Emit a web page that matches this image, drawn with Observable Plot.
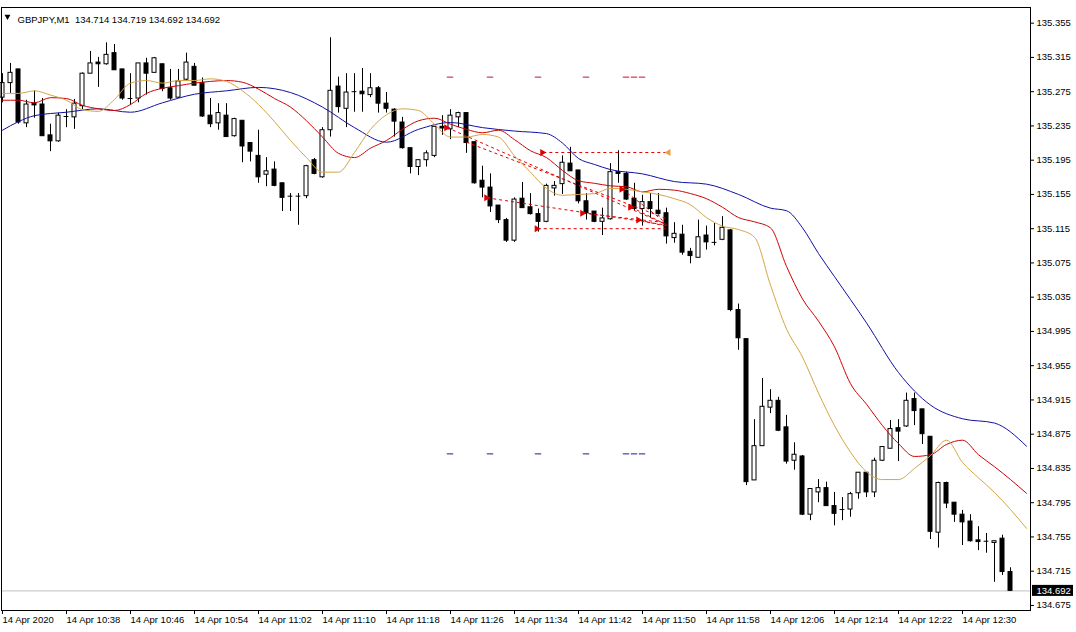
<!DOCTYPE html>
<html><head><meta charset="utf-8">
<script src="https://cdn.jsdelivr.net/npm/d3@7"></script>
<script src="https://cdn.jsdelivr.net/npm/@observablehq/plot@0.6"></script>
<style>
html,body{margin:0;padding:0;background:#fff;}
#chart svg{display:block;}
</style></head><body><div id="chart"></div>
<script>
// ---------- data ----------
const symbolName = "GBPJPY,M1";
const lastOHLC = [134.714, 134.719, 134.692, 134.692];

const open = [135.268,135.285,135.301,135.238,135.261,135.260,135.224,135.217,135.246,135.245,
135.258,135.296,135.309,135.307,135.320,135.301,135.267,135.267,135.308,135.297,
135.307,135.279,135.268,135.289,135.304,135.285,135.247,135.238,135.247,135.223,
135.241,135.215,135.200,135.178,135.184,135.168,135.153,135.153,135.153,135.195,
135.175,135.230,135.281,135.255,135.275,135.275,135.271,135.279,135.261,135.254,
135.239,135.209,135.187,135.195,135.200,135.234,135.231,135.245,135.250,135.216,
135.171,135.163,135.142,135.125,135.101,135.150,135.140,135.132,135.123,135.162,
135.167,135.191,135.183,135.147,135.135,135.123,135.126,135.181,135.179,135.150,
135.138,135.146,135.136,135.133,135.104,135.108,135.088,135.081,135.107,135.099,
135.102,135.113,135.020,134.986,134.821,134.861,134.906,134.914,134.883,134.844,
134.849,134.781,134.807,134.812,134.791,134.787,134.787,134.806,134.830,134.807,
134.844,134.858,134.882,134.884,134.916,134.904,134.872,134.760,134.818,134.795,
134.781,134.773,134.751,134.750,134.748,134.753,134.714];
const high = [135.296,135.308,135.301,135.265,135.276,135.267,135.237,135.250,135.254,135.266,
135.297,135.322,135.315,135.332,135.330,135.301,135.296,135.308,135.314,135.315,
135.307,135.301,135.301,135.320,135.308,135.291,135.267,135.261,135.261,135.244,
135.241,135.215,135.230,135.198,135.193,135.168,135.156,135.156,135.189,135.197,
135.233,135.338,135.292,135.296,135.296,135.302,135.296,135.281,135.274,135.255,
135.245,135.209,135.195,135.206,135.234,135.247,135.254,135.251,135.250,135.216,
135.188,135.179,135.142,135.127,135.151,135.169,135.156,135.138,135.167,135.170,
135.200,135.210,135.183,135.156,135.135,135.139,135.191,135.206,135.181,135.168,
135.154,135.156,135.156,135.139,135.122,135.119,135.092,135.125,135.118,135.121,
135.129,135.114,135.027,134.986,134.892,134.940,134.927,134.918,134.897,134.865,
134.850,134.811,134.822,134.819,134.807,134.801,134.807,134.830,134.830,134.847,
134.860,134.891,134.892,134.923,134.923,134.904,134.872,134.819,134.819,134.795,
134.786,134.781,134.767,134.759,134.750,134.757,134.719];
const low = [135.262,135.273,135.237,135.233,135.244,135.223,135.205,135.216,135.233,135.231,
135.254,135.296,135.280,135.306,135.300,135.265,135.259,135.262,135.271,135.297,
135.275,135.265,135.267,135.288,135.282,135.245,135.233,135.230,135.222,135.222,
135.192,135.193,135.168,135.164,135.164,135.135,135.135,135.119,135.150,135.178,
135.174,135.222,135.250,135.233,135.251,135.251,135.268,135.250,135.250,135.222,
135.208,135.179,135.177,135.187,135.198,135.224,135.219,135.233,135.203,135.167,
135.151,135.134,135.121,135.099,135.099,135.139,135.131,135.111,135.122,135.153,
135.155,135.182,135.144,135.125,135.122,135.107,135.125,135.168,135.148,135.136,
135.118,135.127,135.131,135.097,135.098,135.084,135.074,135.081,135.090,135.095,
135.101,135.018,134.973,134.815,134.821,134.861,134.899,134.878,134.840,134.833,
134.780,134.774,134.795,134.791,134.768,134.774,134.778,134.799,134.801,134.801,
134.843,134.858,134.843,134.883,134.885,134.863,134.752,134.742,134.788,134.772,
134.745,134.749,134.739,134.736,134.702,134.710,134.692];
const close = [135.285,135.297,135.239,135.260,135.259,135.223,135.217,135.247,135.246,135.261,
135.296,135.308,135.307,135.318,135.300,135.267,135.267,135.308,135.296,135.314,
135.278,135.267,135.287,135.309,135.282,135.246,135.237,135.250,135.222,135.243,
135.211,135.205,135.175,135.182,135.165,135.151,135.153,135.153,135.188,135.179,
135.230,135.276,135.257,135.274,135.275,135.272,135.279,135.261,135.255,135.240,
135.209,135.187,135.195,135.203,135.234,135.232,135.247,135.250,135.215,135.168,
135.163,135.141,135.125,135.101,135.149,135.139,135.132,135.123,135.165,135.165,
135.192,135.182,135.147,135.133,135.123,135.127,135.181,135.179,135.149,135.138,
135.146,135.138,135.132,135.106,135.109,135.087,135.083,135.105,135.099,135.099,
135.116,135.020,134.987,134.819,134.861,134.907,134.914,134.879,134.843,134.851,
134.781,134.811,134.812,134.791,134.782,134.787,134.805,134.830,134.807,134.844,
134.860,134.881,134.878,134.914,134.902,134.875,134.761,134.818,134.794,134.781,
134.772,134.750,134.749,134.750,134.750,134.714,134.692];

// moving averages
const blueBars = [0,2,4,8,12,16,20,24,28,32,36,40,44,48,52,56,60,64,68,70,72,74,76,80,84,88,92,96,98,100,102,104,108,112,116,120,124,128];
const blueVals = [135.230,135.240,135.247,135.251,135.255,135.251,135.262,135.272,135.276,135.280,135.274,135.257,135.233,135.216,135.231,135.239,135.233,135.229,135.226,135.215,135.197,135.190,135.184,135.179,135.170,135.167,135.155,135.139,135.136,135.116,135.086,135.059,135.005,134.947,134.909,134.893,134.888,134.861];
const maBars = [0,2,4,6,8,10,12,14,16,18,20,22,24,26,28,30,32,34,36,38,40,42,44,46,48,50,52,54,56,58,60,62,64,66,68,70,72,74,76,78,80,82,84,86,88,90,92,94,96,98,100,102,104,106,108,110,112,114,116,118,120,122,124,126,128];
const redVals = [135.265,135.265,135.262,135.268,135.267,135.259,135.255,135.253,135.260,135.273,135.279,135.282,135.285,135.287,135.288,135.286,135.278,135.267,135.257,135.241,135.222,135.203,135.198,135.209,135.218,135.231,135.241,135.244,135.237,135.231,135.227,135.230,135.219,135.206,135.198,135.183,135.171,135.168,135.165,135.164,135.158,135.161,135.160,135.156,135.150,135.140,135.128,135.123,135.116,135.071,135.033,135.007,134.977,134.934,134.910,134.885,134.864,134.849,134.851,134.863,134.868,134.851,134.837,134.822,134.806];
const orangeVals = [135.273,135.273,135.276,135.271,135.265,135.254,135.252,135.266,135.285,135.288,135.285,135.288,135.288,135.290,135.287,135.276,135.260,135.240,135.218,135.198,135.181,135.181,135.204,135.231,135.248,135.255,135.253,135.237,135.222,135.222,135.225,135.222,135.200,135.181,135.162,135.154,135.155,135.156,135.162,135.161,135.158,135.155,135.150,135.143,135.128,135.118,135.114,135.105,135.049,134.998,134.965,134.923,134.885,134.854,134.831,134.822,134.822,134.835,134.850,134.868,134.842,134.824,134.807,134.787,134.765];

// trade history lines (open -> close)
const tradeOpenBar = [55.6, 58.0, 60.6, 66.9, 67.6, 72.6, 77.5, 78.6, 79.6];
const tradeOpenPrice = [135.233, 135.216, 135.151, 135.115, 135.204, 135.133, 135.161, 135.140, 135.125];
const tradeCloseBar = [82.9, 82.9, 83.1, 82.9, 83.25, 82.9, 82.9, 82.9, 82.9];
const tradeClosePrice = [135.120, 135.127, 135.119, 135.115, 135.204, 135.122, 135.122, 135.120, 135.118];
const tradeArrow = [1, 0, 1, 1, 1, 1, 1, 1, 1];
const pendingCloseBar = [83.25];
const pendingClosePrice = [135.204];

// level marks
const levelBars = [56, 61, 67, 73, 78, 79, 80];
const upperLevel = 135.292;
const lowerLevel = 134.852;

// axes
const timeTickBars = [0,8,16,24,32,40,48,56,64,72,80,88,96,104,112,120];
const timeTickLabels = ["14 Apr 2020","14 Apr 10:38","14 Apr 10:46","14 Apr 10:54","14 Apr 11:02","14 Apr 11:10","14 Apr 11:18","14 Apr 11:26","14 Apr 11:34","14 Apr 11:42","14 Apr 11:50","14 Apr 11:58","14 Apr 12:06","14 Apr 12:14","14 Apr 12:22","14 Apr 12:30"];
const priceTicks = [135.355,135.315,135.275,135.235,135.195,135.155,135.115,135.075,135.035,134.995,134.955,134.915,134.875,134.835,134.795,134.755,134.715,134.675];

// ---------- build ----------
const candles = open.map((o, i) => ({i, o, h: high[i], l: low[i], c: close[i]}));
const dojis = candles.filter(d => Math.abs(d.o - d.c) < 0.0008);
const blue = blueBars.map((k, i) => ({k, v: blueVals[i]}));
const red = maBars.map((k, i) => ({k, v: redVals[i]}));
const orange = maBars.map((k, i) => ({k, v: orangeVals[i]}));
const trades = tradeOpenBar.map((b, i) => ({ob: b, op: tradeOpenPrice[i], cb: tradeCloseBar[i], cp: tradeClosePrice[i], arrow: tradeArrow[i]}));
const pending = pendingCloseBar.map((b, i) => ({b, p: pendingClosePrice[i]}));
const lastClose = close[close.length - 1];
const labelOf = new Map(timeTickBars.map((b, i) => [b, timeTickLabels[i]]));
const header = symbolName + "\u00a0\u00a0" + lastOHLC.map(v => v.toFixed(3)).join(" ");
const FONT = 9.5;

const chart = Plot.plot({
  width: 1076, height: 632,
  marginLeft: 1, marginRight: 46, marginTop: 7, marginBottom: 22,
  style: {background: "#fff", fontFamily: "'Liberation Sans', Arial, sans-serif", fontSize: FONT + "px", color: "#000"},
  x: {type: "linear", domain: [-0.125, 128.5]},
  y: {type: "linear", domain: [134.6691, 135.3733]},
  marks: [
    Plot.ruleY([lastClose], {stroke: "#c0c0c0"}),
    Plot.ruleY(levelBars, {y: upperLevel, x1: d => d - 0.4, x2: d => d + 0.4, stroke: "#c8102e"}),
    Plot.ruleY(levelBars, {y: lowerLevel, x1: d => d - 0.4, x2: d => d + 0.4, stroke: "#1c1ca0"}),
    Plot.ruleX(candles, {x: "i", y1: "l", y2: "h", stroke: "#000"}),
    Plot.rect(candles, {x1: d => d.i - 0.25, x2: d => d.i + 0.25, y1: "o", y2: "c",
      fill: d => d.c >= d.o ? "#ffffff" : "#000000", stroke: "#000"}),
    Plot.ruleY(dojis, {y: "c", x1: d => d.i - 0.3, x2: d => d.i + 0.3, stroke: "#000"}),
    Plot.line(blue, {x: "k", y: "v", stroke: "#1010a8", strokeWidth: 1, curve: "monotone-x"}),
    Plot.line(red, {x: "k", y: "v", stroke: "#d40000", strokeWidth: 1, curve: "monotone-x"}),
    Plot.line(orange, {x: "k", y: "v", stroke: "#d6a540", strokeWidth: 1, curve: "monotone-x"}),
    Plot.link(trades, {x1: "ob", y1: "op", x2: "cb", y2: "cp", stroke: "#e00000", strokeDasharray: "3,3", strokeWidth: 1}),
    Plot.dot(trades.filter(d => d.arrow), {x: "ob", y: "op", symbol: "triangle", rotate: 90, r: 2.6, fill: "#e00000", stroke: "none", dx: -1}),
    Plot.dot(pending, {x: "b", y: "p", symbol: "triangle", rotate: -90, r: 2.6, fill: "#e8a040", stroke: "none"}),
    Plot.frame({stroke: "#000"}),
    Plot.axisY(priceTicks, {anchor: "right", tickSize: 3, tickPadding: 3, tickFormat: d3.format(".3f"), label: null, fontSize: FONT}),
    Plot.axisX(timeTickBars, {anchor: "bottom", tickSize: 4, tickPadding: 2, tickFormat: d => labelOf.get(d), textAnchor: "start", dx: 0, label: null, fontSize: FONT}),
    Plot.dot([0], {frameAnchor: "top-left", dx: 6, dy: 9, symbol: "triangle", rotate: 180, r: 2.2, fill: "#000", stroke: "none"}),
    Plot.text([header], {frameAnchor: "top-left", dx: 16, dy: 9, text: d => d, textAnchor: "start", fontSize: FONT, fill: "#000"}),
    Plot.text([lastClose], {y: d => d, frameAnchor: "right", dx: 6, text: d => d.toFixed(3), textAnchor: "start", fontSize: FONT, fill: "#fff"})
  ]
});
document.getElementById("chart").appendChild(chart);

// black box behind the current price label
const yPix = chart.scale("y").apply(lastClose);
const xRight = chart.scale("x").range[1];
const textGroups = chart.querySelectorAll('g[aria-label="text"]');
const lastG = textGroups[textGroups.length - 1];
const box = document.createElementNS("http://www.w3.org/2000/svg", "rect");
box.setAttribute("x", xRight + 2);
box.setAttribute("y", yPix - 5.5);
box.setAttribute("width", 41);
box.setAttribute("height", 11);
box.setAttribute("fill", "#000");
lastG.parentNode.insertBefore(box, lastG);
</script>
</body></html>
